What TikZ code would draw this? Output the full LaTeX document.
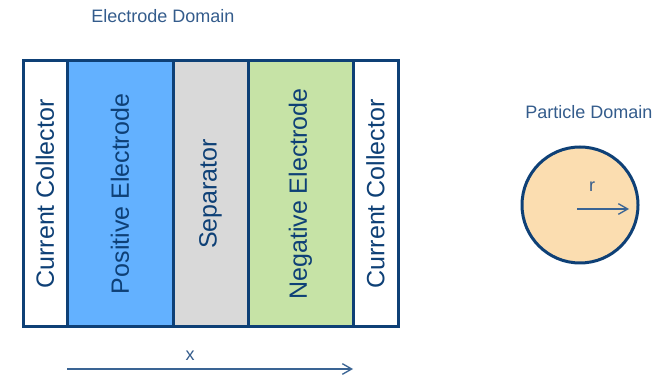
\documentclass[tikz,border=0pt]{standalone}
\usepackage{fontspec}
\setmainfont{Liberation Sans}
\usetikzlibrary{arrows.meta}
\definecolor{navy}{RGB}{14,64,118}
\definecolor{lblue}{RGB}{52,92,140}
\definecolor{arrowc}{RGB}{58,100,148}
\definecolor{posfill}{RGB}{99,177,255}
\definecolor{sepfill}{RGB}{217,217,217}
\definecolor{negfill}{RGB}{198,227,166}
\definecolor{partfill}{RGB}{251,221,176}
\tikzset{
  col/.style={draw=navy, line width=2.25pt, rotate=90, minimum width=199.5pt,
    inner sep=0pt, text=navy, font=\fontsize{18.75}{22}\selectfont},
  smalllbl/.style={text=lblue, font=\fontsize{13.5}{16}\selectfont, inner sep=0pt},
  axisarrow/.style={draw=arrowc, line width=1pt, -{Straight Barb[length=7pt,width=8pt]}},
}
\begin{document}
\begin{tikzpicture}[x=0.75pt, y=-0.75pt]
\useasboundingbox (0,0) rectangle (664,377);
\node[smalllbl] (edl) at (163,16) {Electrode Domain};
\node[col, fill=white, minimum height=33pt] (cc1) at (45,194) {Current Collector};
\node[col, fill=posfill, minimum height=79.5pt] (pos) at (120,194) {Positive Electrode};
\node[col, fill=sepfill, minimum height=56.25pt] (sep) at (210.5,194) {Separator};
\node[col, fill=negfill, minimum height=78.75pt] (neg) at (300.5,194) {Negative Electrode};
\node[col, fill=white, minimum height=33.75pt] (cc2) at (375.5,194) {Current Collector};
\node[smalllbl] (xl) at (190,356) {x};
\coordinate (xs) at (67,369);
\coordinate (xe) at (353,369);
\draw[axisarrow] (xs) -- (xe);
\node[smalllbl] (pdl) at (589,112) {Particle Domain};
\node[circle, draw=navy, line width=2.25pt, fill=partfill, minimum size=87pt, inner sep=0pt] (part) at (580,205) {};
\node[smalllbl] (rl) at (592,187) {r};
\coordinate (rs) at (577,209);
\coordinate (re) at (629,209);
\draw[axisarrow] (rs) -- (re);
\end{tikzpicture}
\end{document}
